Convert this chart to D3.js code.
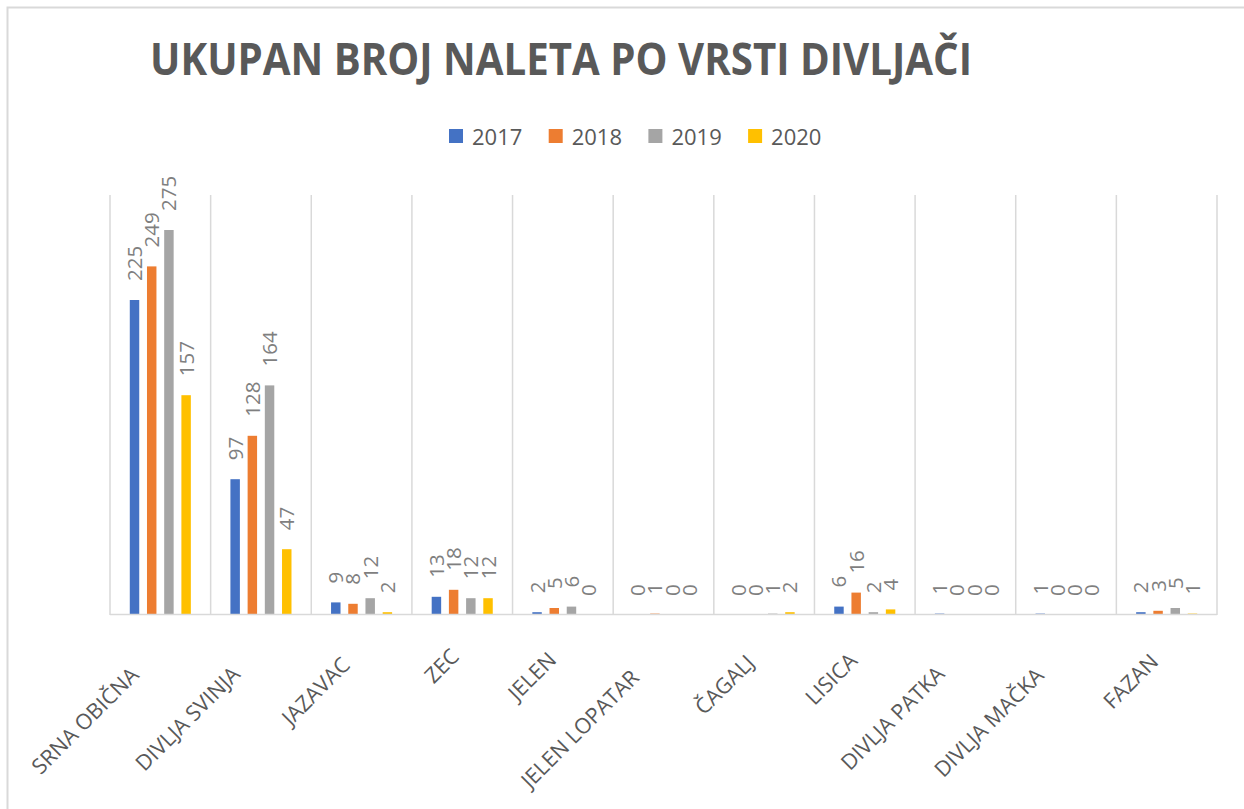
<!DOCTYPE html>
<html>
<head>
<meta charset="utf-8">
<script src="https://cdn.jsdelivr.net/npm/d3@7"></script>
<style>
  body { margin: 0; background: #fff; }
  svg { display: block; font-family: "Open Sans", sans-serif; }
</style>
</head>
<body>
<svg id="chart" width="1244" height="809"></svg>
<script>
// data
var categories = ["SRNA OBIČNA", "DIVLJA SVINJA", "JAZAVAC", "ZEC", "JELEN", "JELEN LOPATAR",
                  "ČAGALJ", "LISICA", "DIVLJA PATKA", "DIVLJA MAČKA", "FAZAN"];
var years = ["2017", "2018", "2019", "2020"];
var v2017 = [225, 97, 9, 13, 2, 0, 0, 6, 1, 1, 2];
var v2018 = [249, 128, 8, 18, 5, 1, 0, 16, 0, 0, 3];
var v2019 = [275, 164, 12, 12, 6, 0, 1, 2, 0, 0, 5];
var v2020 = [157, 47, 2, 12, 0, 0, 2, 4, 0, 0, 1];
var colors = ["#4472C4", "#ED7D31", "#A5A5A5", "#FFC000"];

var series = [v2017, v2018, v2019, v2020];
var title = "UKUPAN BROJ NALETA PO VRSTI DIVLJAČI";

var svg = d3.select("#chart"),
    width = +svg.attr("width"),
    height = +svg.attr("height");

var plot = {left: 110, right: 1217, top: 195, bottom: 615};

// chart frame (runs off the right and bottom edge)
svg.append("rect")
    .attr("x", 7.5).attr("y", 7.5)
    .attr("width", 1400).attr("height", 900)
    .attr("fill", "#fff")
    .attr("stroke", "#d9d9d9")
    .attr("stroke-width", 2);

var x0 = d3.scaleBand()
    .domain(categories)
    .range([plot.left, plot.right])
    .padding(0);

var x1 = d3.scaleBand()
    .domain(years)
    .range([0, x0.bandwidth()])
    .paddingInner(0.45)
    .paddingOuter(1.15);

var y = d3.scaleLinear()
    .domain([0, 300])
    .range([plot.bottom, plot.top]);

// vertical gridlines at category boundaries
var bounds = categories.map(function(c) { return x0(c); }).concat([plot.right]);
svg.append("g").selectAll("line")
    .data(bounds)
  .enter().append("line")
    .attr("x1", function(d) { return d; })
    .attr("x2", function(d) { return d; })
    .attr("y1", plot.top)
    .attr("y2", plot.bottom)
    .attr("stroke", "#d9d9d9")
    .attr("stroke-width", 1.5);

// bars
var rows = [];
categories.forEach(function(c, i) {
  years.forEach(function(yr, j) {
    rows.push({cat: c, year: yr, value: series[j][i], color: colors[j]});
  });
});

svg.append("g").selectAll("rect")
    .data(rows)
  .enter().append("rect")
    .attr("x", function(d) { return x0(d.cat) + x1(d.year); })
    .attr("y", function(d) { return y(d.value); })
    .attr("width", x1.bandwidth())
    .attr("height", function(d) { return y(0) - y(d.value); })
    .attr("fill", function(d) { return d.color; });

// baseline
svg.append("line")
    .attr("x1", plot.left).attr("x2", plot.right)
    .attr("y1", y(0) - 0.5).attr("y2", y(0) - 0.5)
    .attr("stroke", "#d9d9d9")
    .attr("stroke-width", 1.5);

// value labels, rotated
svg.append("g").selectAll("text")
    .data(rows)
  .enter().append("text")
    .attr("transform", function(d) {
      var cx = x0(d.cat) + x1(d.year) + x1.bandwidth() / 2 + 7.5;
      return "translate(" + cx + "," + (y(d.value) - 19) + ") rotate(-90)";
    })
    .attr("font-size", 20.5)
    .attr("fill", "#7f7f7f")
    .text(function(d) { return d.value; });

// category labels at -45 degrees
var catLabels = svg.append("g").selectAll("text")
    .data(categories)
  .enter().append("text")
    .attr("font-size", 21.5)
    .attr("fill", "#595959")
    .attr("text-anchor", "end")
    .text(function(d) { return d; });

catLabels.attr("transform", function(d) {
  var L = this.getComputedTextLength();
  var cx = x0(d) + x0.bandwidth() / 2;
  return "translate(" + (cx + 5 - 0.18 * L) + "," + (651 + 0.18 * L) + ") rotate(-45)";
});

// title
svg.append("text")
    .attr("x", 150)
    .attr("y", 75)
    .attr("font-size", 44)
    .attr("font-weight", "bold")
    .attr("fill", "#595959")
    .attr("textLength", 822)
    .attr("lengthAdjust", "spacingAndGlyphs")
    .text(title);

// legend
var legend = svg.append("g").selectAll("g")
    .data(years)
  .enter().append("g")
    .attr("transform", function(d, i) { return "translate(" + (449 + i * 99.7) + ",129)"; });

legend.append("rect")
    .attr("width", 14)
    .attr("height", 14)
    .attr("fill", function(d, i) { return colors[i]; });

legend.append("text")
    .attr("x", 23)
    .attr("y", 15.5)
    .attr("font-size", 22)
    .attr("fill", "#595959")
    .text(function(d) { return d; });
</script>
</body>
</html>
